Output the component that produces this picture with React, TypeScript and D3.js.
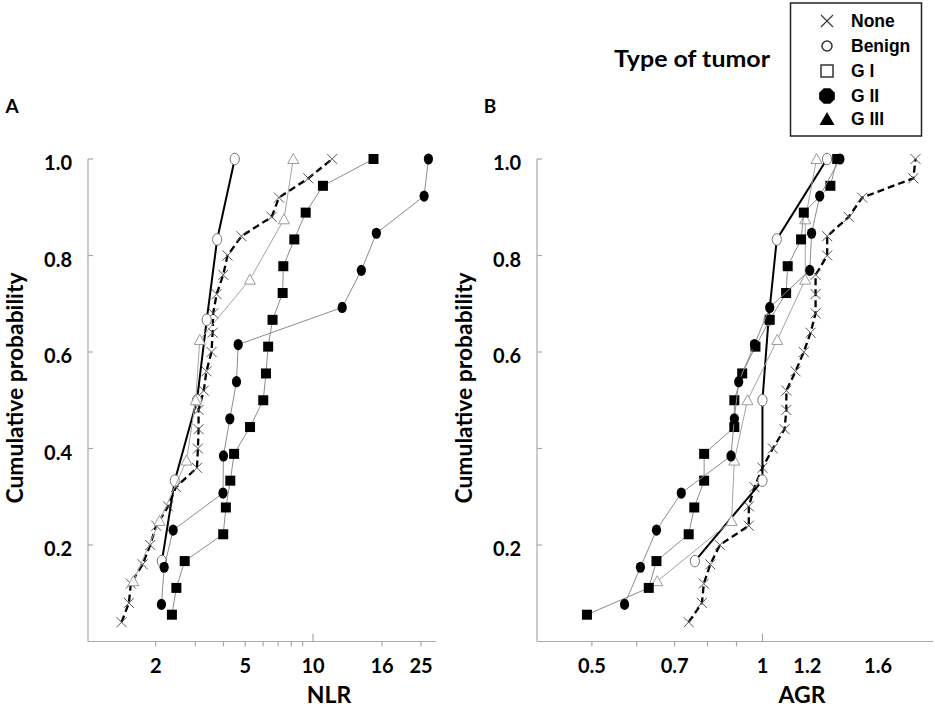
import * as d3 from "d3";

// ── Data (values sorted within each group) ──
const GROUPS = ["None", "Benign", "G I", "G II", "G III"];

// Panel A – NLR
const NLR_NONE = [1.41, 1.52, 1.55, 1.75, 1.89, 2.01, 2.27, 2.46, 3.05, 3.08, 3.1, 3.1, 3.27, 3.36, 3.54, 3.58, 3.6, 3.73, 3.99, 4.17, 4.81, 6.55, 7.06, 9.53, 11.4];
const NLR_BENIGN = [2.13, 2.43, 3.05, 3.37, 3.75, 4.49];
const NLR_G1 = [2.36, 2.47, 2.69, 3.99, 4.1, 4.29, 4.46, 5.25, 6.01, 6.18, 6.32, 6.61, 7.33, 7.38, 8.26, 9.28, 10.7, 15.1];
const NLR_G2 = [2.12, 2.18, 2.39, 3.98, 4.0, 4.27, 4.57, 4.65, 12.2, 13.9, 15.4, 25.9, 27.2];
const NLR_G3 = [1.59, 2.08, 2.74, 3.01, 3.14, 5.24, 7.43, 8.17];

// Panel B – AGR
const AGR_NONE = [0.741, 0.782, 0.788, 0.809, 0.841, 0.946, 0.946, 0.968, 1.0, 1.043, 1.094, 1.102, 1.102, 1.144, 1.183, 1.216, 1.241, 1.241, 1.241, 1.301, 1.301, 1.42, 1.5, 1.846, 1.863];
const AGR_BENIGN = [0.76, 1.0, 1.0, 1.025, 1.06, 1.3];
const AGR_G1 = [0.49, 0.63, 0.65, 0.741, 0.758, 0.789, 0.789, 0.892, 0.892, 0.921, 0.972, 1.03, 1.101, 1.108, 1.17, 1.183, 1.318, 1.355];
const AGR_G2 = [0.571, 0.609, 0.65, 0.719, 0.88, 0.892, 0.908, 0.968, 1.03, 1.212, 1.221, 1.262, 1.37];
const AGR_G3 = [0.652, 0.882, 0.892, 0.941, 1.062, 1.19, 1.19, 1.246];

// ── Ticks ─────────────────────────────────────────────────────
const NLR_MINOR = [2, 3, 4, 5, 6, 7, 8, 9, 16, 25];
const NLR_MAJOR = [10];
const NLR_LABELS = [2, 5, 10, 16, 25];

const AGR_MINOR = [0.5, 0.6, 0.7, 0.8, 0.9];
const AGR_MAJOR = [1];
const AGR_LABELS = [0.5, 0.7, 1, 1.2, 1.6];

const PROB_TICKS = [0.2, 0.4, 0.6, 0.8, 1.0];
const PROB_LABELS_A = [0.2, 0.4, 0.6, 0.8, 1.0];
const PROB_LABELS_B = [0.2, 0.6, 0.8, 1.0];

// ── Styling ───────────────────────────────────────────────────
const FONT = "Lato, 'Open Sans', sans-serif";
const AXIS = "#a9a9a9";
const GREY_LINE = "#8c8c8c";

type Marker = "x" | "ocircle" | "square" | "dot" | "otri";
const STYLE: Record<string, { stroke: string; width: number; dash?: string; marker: Marker }> = {
  None: { stroke: "#000", width: 2.3, dash: "7,4", marker: "x" },
  Benign: { stroke: "#000", width: 2, marker: "ocircle" },
  "G I": { stroke: GREY_LINE, width: 1, marker: "square" },
  "G II": { stroke: GREY_LINE, width: 1, marker: "dot" },
  "G III": { stroke: "#a4a4a4", width: 1, marker: "otri" },
};
// drawing order (later on top)
const ORDER = ["None", "Benign", "G III", "G I", "G II"];

const y = d3.scaleLinear().domain([0, 1]).range([641.5, 159]);

function Glyph({ m, cx, cy }: { m: Marker; cx: number; cy: number }) {
  const t = `translate(${cx},${cy})`;
  switch (m) {
    case "x":
      return <path transform={t} d="M-5,-5L5,5M-5,5L5,-5" stroke="#555" strokeWidth={1} fill="none" />;
    case "ocircle":
      return <ellipse cx={cx} cy={cy} rx={4.6} ry={5.8} fill="#fff" stroke="#777" strokeWidth={1} />;
    case "square":
      return <rect x={cx - 5} y={cy - 5} width={10} height={10} fill="#000" />;
    case "dot":
      return <ellipse cx={cx} cy={cy} rx={4.6} ry={5.6} fill="#000" />;
    case "otri":
      return <path transform={t} d="M0,-5.5L5.5,4.5L-5.5,4.5Z" fill="#fff" stroke="#9a9a9a" strokeWidth={1} />;
  }
}

function Series({ values, x, group }: { values: number[]; x: (v: number) => number; group: string }) {
  const s = STYLE[group];
  const n = values.length;
  const pts: [number, number][] = values.map((v, i) => [x(v), y((i + 1) / n)]);
  const line = d3.line<[number, number]>().x((d) => d[0]).y((d) => d[1]);
  return (
    <g>
      <path d={line(pts) ?? ""} fill="none" stroke={s.stroke} strokeWidth={s.width} strokeDasharray={s.dash} />
      {pts.map((p, i) => (
        <Glyph key={i} m={s.marker} cx={p[0]} cy={p[1]} />
      ))}
    </g>
  );
}

interface PanelProps {
  x: d3.ScaleLogarithmic<number, number>;
  xEnd: [number, number];
  data: Record<string, number[]>;
  minor: number[];
  major: number[];
  labels: number[];
  probLabels: number[];
  title: string;
  axisTitle: string;
  letter: string;
  letterX: number;
}

function Panel({ x, xEnd, data, minor, major, labels, probLabels, title, axisTitle, letter, letterX }: PanelProps) {
  const x0 = xEnd[0];
  const yBase = y(0);
  return (
    <g>
      {/* axes */}
      <line x1={x0} x2={x0} y1={y(1)} y2={yBase} stroke={AXIS} strokeWidth={1.2} />
      <line x1={x0} x2={xEnd[1]} y1={yBase} y2={yBase} stroke={AXIS} strokeWidth={1.2} />
      {PROB_TICKS.map((t) => (
        <line key={t} x1={x0} x2={x0 + 5} y1={y(t)} y2={y(t)} stroke={AXIS} strokeWidth={1.2} />
      ))}
      {probLabels.map((t) => (
        <text key={t} x={x0 - 16} y={y(t) + 3} textAnchor="end" dominantBaseline="central"
          fontFamily={FONT} fontWeight={700} fontSize={20}>{d3.format(".1f")(t)}</text>
      ))}
      {minor.map((t) => (
        <line key={t} x1={x(t)} x2={x(t)} y1={yBase} y2={yBase + 5} stroke={AXIS} strokeWidth={1.2} />
      ))}
      {major.map((t) => (
        <line key={t} x1={x(t)} x2={x(t)} y1={yBase} y2={yBase - 8} stroke={AXIS} strokeWidth={1.2} />
      ))}
      {labels.map((t) => (
        <text key={t} x={x(t)} y={673} textAnchor="middle" fontFamily={FONT} fontWeight={700} fontSize={20}>
          {String(t)}
        </text>
      ))}
      <text x={(x0 + xEnd[1]) / 2 + 67} y={703} textAnchor="middle" fontFamily={FONT} fontWeight={700} fontSize={23}>
        {axisTitle}
      </text>
      <text transform={`translate(${x0 - 65},388) rotate(-90)`} textAnchor="middle" fontFamily={FONT}
        fontWeight={700} fontSize={22} textLength={231} lengthAdjust="spacingAndGlyphs">{title}</text>
      <text x={letterX} y={113} textAnchor="middle" fontFamily={FONT} fontWeight={700} fontSize={19}>{letter}</text>

      {ORDER.map((g) => (
        <Series key={g} values={data[g]} x={x} group={g} />
      ))}
    </g>
  );
}

function Legend() {
  const lx = 827;
  const rows = [21, 46, 71, 96, 119];
  const oct = d3.range(8).map((i) => {
    const a = Math.PI / 8 + (i * Math.PI) / 4;
    return [8.5 * Math.cos(a), 8.5 * Math.sin(a)];
  });
  return (
    <g>
      <text x={614} y={67} fontFamily={FONT} fontWeight={700} fontSize={22} textLength={156}
        lengthAdjust="spacingAndGlyphs">Type of tumor</text>
      <rect x={790.5} y={3} width={131} height={133} fill="none" stroke="#222" strokeWidth={1.5} />
      <path transform={`translate(${lx},${rows[0]})`} d="M-6,-6L6,6M-6,6L6,-6" stroke="#333" strokeWidth={1.1} />
      <circle cx={lx} cy={rows[1]} r={5} fill="#fff" stroke="#333" strokeWidth={1.5} />
      <rect x={lx - 6} y={rows[2] - 6} width={12} height={12} fill="#fff" stroke="#333" strokeWidth={1.5} />
      <path transform={`translate(${lx},${rows[3]})`} d={"M" + oct.map((p) => p.join(",")).join("L") + "Z"} fill="#000" />
      <path transform={`translate(${lx},${rows[4]})`} d="M0,-7L7.5,6L-7.5,6Z" fill="#000" />
      {GROUPS.map((g, i) => (
        <text key={g} x={851} y={rows[i]} dominantBaseline="central" fontFamily="'Liberation Sans', Arial, sans-serif"
          fontWeight={700} fontSize={17.5}>{g}</text>
      ))}
    </g>
  );
}

export default function App() {
  const xA = d3.scaleLog().domain([1, 10, 16, 25, 30]).range([88, 313, 382, 421, 437]);
  const xB = d3.scaleLog().domain([0.4, 2]).range([537, 933]);

  const dataA = { None: NLR_NONE, Benign: NLR_BENIGN, "G I": NLR_G1, "G II": NLR_G2, "G III": NLR_G3 };
  const dataB = { None: AGR_NONE, Benign: AGR_BENIGN, "G I": AGR_G1, "G II": AGR_G2, "G III": AGR_G3 };

  return (
    <div style={{ position: "absolute", left: 0, top: 0 }}>
      <svg width={935} height={709} style={{ display: "block", background: "#fff" }}>
        <Panel x={xA} xEnd={[88, 436]} data={dataA} minor={NLR_MINOR} major={NLR_MAJOR} labels={NLR_LABELS}
          probLabels={PROB_LABELS_A} title="Cumulative probability" axisTitle="NLR" letter="A" letterX={12} />
        <Panel x={xB} xEnd={[537, 933]} data={dataB} minor={AGR_MINOR} major={AGR_MAJOR} labels={AGR_LABELS}
          probLabels={PROB_LABELS_B} title="Cumulative probability" axisTitle="AGR" letter="B" letterX={490} />
        <Legend />
      </svg>
    </div>
  );
}
